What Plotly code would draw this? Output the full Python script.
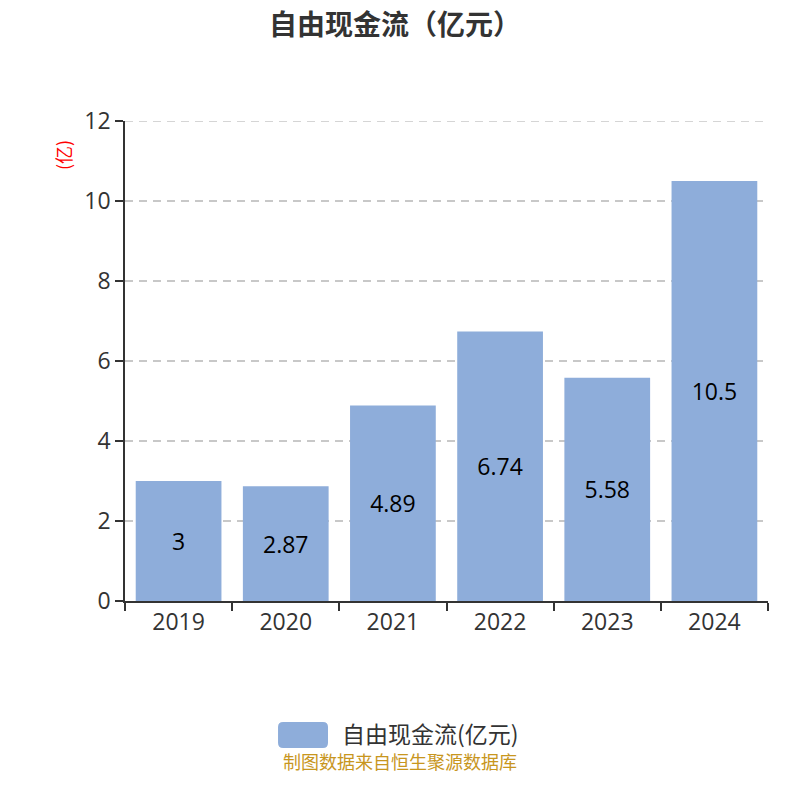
import plotly.graph_objects as go

years = ["2019", "2020", "2021", "2022", "2023", "2024"]
values = [3, 2.87, 4.89, 6.74, 5.58, 10.5]
labels = ["3", "2.87", "4.89", "6.74", "5.58", "10.5"]
y_ticks = [0, 2, 4, 6, 8, 10, 12]
series_name = "自由现金流(亿元)"
title_text = "自由现金流（亿元）"
unit_text = "(亿)"
source_text = "制图数据来自恒生聚源数据库"

bar_color = "#8EADDA"
grid_color = "#C8C8C8"
font_family = "Open Sans, Noto Sans CJK SC"
cjk_family = "Noto Sans CJK SC"

fig = go.Figure()
fig.add_trace(go.Bar(
    x=years, y=values, text=labels, name=series_name,
    marker=dict(color=bar_color, line=dict(width=0)),
    textposition="inside", insidetextanchor="middle",
    textfont=dict(size=23, color="#000000", family=font_family),
    width=0.8, showlegend=False, hoverinfo="skip",
))

fig.update_layout(
    width=800, height=800,
    margin=dict(l=117, r=40, t=113, b=207),
    paper_bgcolor="white", plot_bgcolor="white",
    font=dict(family=font_family, color="#333333"),
    xaxis=dict(
        type="category", range=[-0.5, 5.5], tickson="boundaries",
        ticks="outside", ticklen=8, tickcolor="#333333", tickwidth=1.5,
        showline=True, linecolor="#333333", linewidth=1.5,
        tickfont=dict(size=23, color="#333333"), showgrid=False,
    ),
    yaxis=dict(
        range=[0, 12], tickvals=y_ticks, tickmode="array",
        ticks="outside", ticklen=8, tickcolor="#333333", tickwidth=1.5,
        showline=True, linecolor="#333333", linewidth=1.5,
        tickfont=dict(size=23, color="#333333"),
        showgrid=True, gridcolor=grid_color, griddash="8px,6px", gridwidth=1.6,
        zeroline=False,
    ),
    bargap=0.2,
)

# top gridline (at the max tick) which plotly omits at the range edge
fig.add_shape(type="line", xref="paper", yref="y", x0=0, x1=1, y0=y_ticks[-1], y1=y_ticks[-1],
              line=dict(color=grid_color, width=1.6, dash="8px,6px"), layer="below")

fig.add_annotation(text=title_text, xref="paper", yref="paper", x=0.42, y=1.205,
                   xanchor="center", yanchor="middle", showarrow=False,
                   font=dict(size=28, color="#333333", family=cjk_family, weight="bold"))

fig.add_annotation(text=unit_text, xref="paper", yref="paper", x=-0.0964, y=0.929,
                   xanchor="center", yanchor="middle",
                   textangle=-90, showarrow=False,
                   font=dict(size=18, color="#FF0000", family=cjk_family))

# legend drawn as swatch + label
x0, x1, y0, y1, rx, ry = 0.238, 0.3157, -0.2521, -0.3063, 0.0078, 0.0104
path = (f"M {x0+rx} {y0} L {x1-rx} {y0} Q {x1} {y0} {x1} {y0-ry} "
        f"L {x1} {y1+ry} Q {x1} {y1} {x1-rx} {y1} L {x0+rx} {y1} "
        f"Q {x0} {y1} {x0} {y1+ry} L {x0} {y0-ry} Q {x0} {y0} {x0+rx} {y0} Z")
fig.add_shape(type="path", xref="paper", yref="paper", path=path,
              fillcolor=bar_color, line=dict(width=0))
fig.add_annotation(text=series_name, xref="paper", yref="paper", x=0.3344, y=-0.2755,
                   xanchor="left", yanchor="middle", showarrow=False,
                   font=dict(size=23, color="#333333", family=cjk_family))
fig.add_annotation(text=source_text, xref="paper", yref="paper", x=0.4277, y=-0.333,
                   xanchor="center", yanchor="middle", showarrow=False,
                   font=dict(size=18, color="#C8961E", family=cjk_family))

fig.write_html("out.html")
